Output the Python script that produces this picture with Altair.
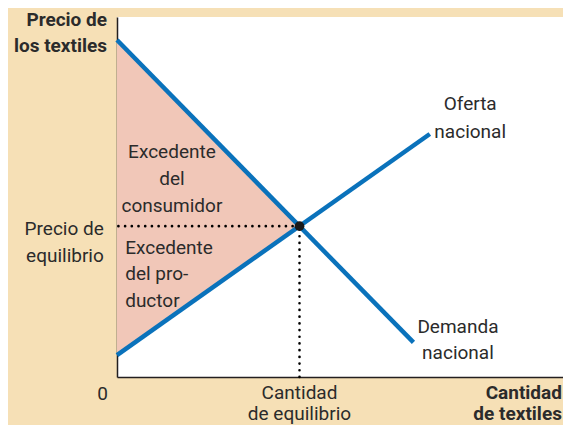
import altair as alt
import pandas as pd

# ---- data (economic units: quantity 0..~9.8, price 0..10) ----
eq_x, eq_y = 4.02, 4.19
demand_x = [0.0, 6.53]
demand_y = [9.36, 0.96]
supply_x = [0.0, 6.89]
supply_y = [0.61, 6.75]

labels_text = [
    "Precio de\nlos textiles",
    "Precio de\nequilibrio",
    "0",
    "Cantidad\nde equilibrio",
    "Cantidad\nde textiles",
    "Oferta\nnacional",
    "Demanda\nnacional",
    "Excedente\ndel\nconsumidor",
    "Excedente\ndel pro-\nductor",
]
labels_x = [-0.22, -0.29, -0.20, 4.02, 9.80, 7.78, 7.51, 1.21, 0.18]
labels_y = [9.75, 3.944, -0.639, -0.611, -0.611, 7.417, 1.222, 6.09, 3.417]
labels_align = ["right", "right", "right", "center", "right", "center", "center", "center", "left"]
labels_bold = [True, False, False, False, True, False, False, False, False]
labels_lh = [26, 27, 27, 21, 21, 28, 26, 27, 26.5]

BG = "#f6e0b6"
BLUE = "#0a72bb"
PINK = "#f1c7b8"
INK = "#2b2b2b"
FONT = "Roboto"

xs = alt.Scale(domain=[0, 9.824], nice=False, zero=False)
ys = alt.Scale(domain=[0, 10], nice=False, zero=False)

axis_cfg = dict(domain=True, ticks=False, labels=False, grid=False, title=None,
                domainColor="#231f20", domainWidth=1.5)

# triangle of surpluses
tri = pd.DataFrame({"x": [0.0, eq_x], "lo": [supply_y[0], eq_y], "hi": [demand_y[0], eq_y]})
area = alt.Chart(tri).mark_area(color=PINK, opacity=1).encode(
    x=alt.X("x:Q", scale=xs, axis=alt.Axis(**axis_cfg)),
    y=alt.Y("lo:Q", scale=ys, axis=alt.Axis(**axis_cfg)),
    y2="hi:Q",
)

dem = alt.Chart(pd.DataFrame({"x": demand_x, "y": demand_y})).mark_line(
    color=BLUE, strokeWidth=4.5, strokeCap="butt").encode(
    x=alt.X("x:Q", scale=xs), y=alt.Y("y:Q", scale=ys))
sup = alt.Chart(pd.DataFrame({"x": supply_x, "y": supply_y})).mark_line(
    color=BLUE, strokeWidth=4.5, strokeCap="butt").encode(
    x=alt.X("x:Q", scale=xs), y=alt.Y("y:Q", scale=ys))

dots = dict(color="black", strokeWidth=2.6, strokeDash=[0.1, 6.6], strokeCap="round")
hline = alt.Chart(pd.DataFrame({"x": [0.03], "x2": [eq_x], "y": [eq_y]})).mark_rule(**dots).encode(
    x=alt.X("x:Q", scale=xs), x2="x2:Q", y=alt.Y("y:Q", scale=ys))
vline = alt.Chart(pd.DataFrame({"x": [eq_x], "y": [0.0], "y2": [eq_y]})).mark_rule(**dots).encode(
    x=alt.X("x:Q", scale=xs), y=alt.Y("y:Q", scale=ys), y2="y2:Q")

pt = alt.Chart(pd.DataFrame({"x": [eq_x], "y": [eq_y]})).mark_point(
    filled=True, color="#1a1a1a", size=95, opacity=1).encode(
    x=alt.X("x:Q", scale=xs), y=alt.Y("y:Q", scale=ys))

lab = pd.DataFrame({"x": labels_x, "y": labels_y, "text": labels_text,
                    "align": labels_align, "bold": labels_bold, "lh": labels_lh})

text_layers = []
for i, row in lab.iterrows():
    text_layers.append(
        alt.Chart(lab.iloc[[i]]).mark_text(
            align=row["align"], baseline="alphabetic", lineBreak="\n", lineHeight=float(row["lh"]),
            font=FONT, fontSize=19, fontWeight="bold" if row["bold"] else "normal",
            color=INK, clip=False,
        ).encode(x=alt.X("x:Q", scale=xs), y=alt.Y("y:Q", scale=ys), text="text:N")
    )

chart = alt.layer(area, dem, sup, hline, vline, pt, *text_layers).properties(
    width=446, height=360,
    autosize="none",
    padding={"left": 109, "top": 9, "right": 0, "bottom": 48},
    background=BG,
).configure_view(strokeWidth=0, fill="white")

chart.save("out.html", embed_options={"renderer": "svg", "actions": False})
